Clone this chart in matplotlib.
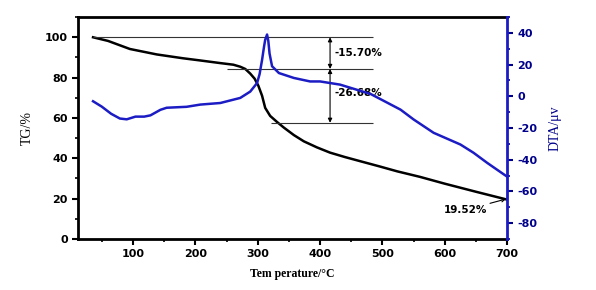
import matplotlib
matplotlib.use('Agg')
import matplotlib.pyplot as plt
from matplotlib.ticker import MultipleLocator

plt.rcParams['axes.unicode_minus'] = False

# TG curve (left axis)
tg_temp = [36, 60, 95, 138, 180, 208, 240, 261, 272, 280, 288, 295, 301, 307,
           312, 320, 331, 342, 358, 374, 395, 416, 440, 465, 495, 524, 560,
           600, 650, 700]
tg_vals = [100, 98.2, 94.2, 91.5, 89.6, 88.5, 87.2, 86.4, 85.4, 84.3, 82.0,
           79.5, 76.0, 71.0, 65.0, 61.0, 58.0, 55.2, 51.5, 48.4, 45.4, 42.8,
           40.6, 38.5, 36.0, 33.5, 30.8, 27.4, 23.4, 19.5]

# DTA curve (right axis)
dta_temp = [36, 50, 65, 79, 90, 104, 118, 128, 144, 154, 186, 208, 240, 272,
            288, 299, 303, 307, 310, 312, 315, 317, 319, 323, 334, 358, 384,
            400, 432, 481, 529, 550, 582, 625, 646, 668, 690, 700]
dta_vals = [-3.1, -6.5, -11, -14, -14.5, -12.8, -12.8, -12, -8.5, -7.2, -6.6,
            -5.2, -4.2, -1, 3, 8.4, 14, 23, 31, 35.7, 39, 35, 27, 19, 14.7,
            11.6, 9.4, 9.4, 7.4, 1.5, -8.4, -14.6, -23, -30.4, -35.6, -42,
            -48, -50.7]

steps = [100, 84.3, 57.62]
step_labels = ['-15.70%', '-26.68%']
residue = '19.52%'

blue = '#1c1cc4'
dark_blue = '#00008b'

fig = plt.figure(figsize=(5.96, 2.90), dpi=100)
ax = fig.add_axes([0.131, 0.176, 0.72, 0.765])
ax2 = ax.twinx()

ax.plot(tg_temp, tg_vals, color='black', lw=1.8)
ax2.plot(dta_temp, dta_vals, color=blue, lw=1.8)

# step guide lines
ax.hlines(steps[0], 36, 485, color='#333333', lw=0.8)
ax.hlines(steps[1], 250, 485, color='#333333', lw=0.8)
ax.hlines(steps[2], 322, 485, color='#333333', lw=0.8)
for top, bot in [(steps[0], steps[1]), (steps[1], steps[2])]:
    ax.annotate('', xy=(416, bot), xytext=(416, top),
                arrowprops=dict(arrowstyle='<|-|>', color='black', lw=0.8,
                                mutation_scale=6, shrinkA=0, shrinkB=0))
ax.text(423, (steps[0] + steps[1]) / 2, step_labels[0], fontsize=7.5,
        fontweight='bold', va='center', ha='left')
ax.text(423, (steps[1] + steps[2]) / 2 + 1.5, step_labels[1], fontsize=7.5,
        fontweight='bold', va='center', ha='left')
ax.annotate(residue, xy=(698, 19.8), xytext=(668, 14.4), fontsize=7.5,
            fontweight='bold', ha='right', va='center',
            arrowprops=dict(arrowstyle='->', color='black', lw=0.8,
                            mutation_scale=6, shrinkA=0, shrinkB=0))

ax.set_xlim(12, 700)
ax.set_ylim(0, 110)
ax2.set_ylim(-90, 50)

ax.xaxis.set_major_locator(MultipleLocator(100))
ax.xaxis.set_minor_locator(MultipleLocator(50))
ax.yaxis.set_major_locator(MultipleLocator(20))
ax.yaxis.set_minor_locator(MultipleLocator(10))
ax2.yaxis.set_major_locator(MultipleLocator(20))
ax2.yaxis.set_minor_locator(MultipleLocator(10))

ax.tick_params(axis='both', which='major', length=4, width=1.5, labelsize=8)
ax.tick_params(axis='both', which='minor', length=2.5, width=1.2)
ax2.tick_params(axis='y', which='major', length=4, width=1.5, labelsize=8,
                colors=dark_blue)
ax2.tick_params(axis='y', which='minor', length=2.5, width=1.2,
                colors=dark_blue)
for lab in ax.get_xticklabels() + ax.get_yticklabels() + ax2.get_yticklabels():
    lab.set_fontweight('bold')

for name in ['left', 'bottom', 'top']:
    ax.spines[name].set_linewidth(2)
ax2.spines['right'].set_linewidth(2)
ax2.spines['right'].set_color(blue)
ax.spines['right'].set_visible(False)
for name in ['left', 'bottom', 'top']:
    ax2.spines[name].set_visible(False)

ax.set_xlabel('Tem perature/°C', fontsize=8.5, fontweight='bold',
              family='Liberation Serif', labelpad=6)
ax.set_ylabel('TG/%', fontsize=10, family='Liberation Serif', labelpad=8)
ax2.set_ylabel('DTA/μv', fontsize=10, family='Liberation Serif',
               color=dark_blue, labelpad=8)

fig.savefig('out.png', dpi=100)
